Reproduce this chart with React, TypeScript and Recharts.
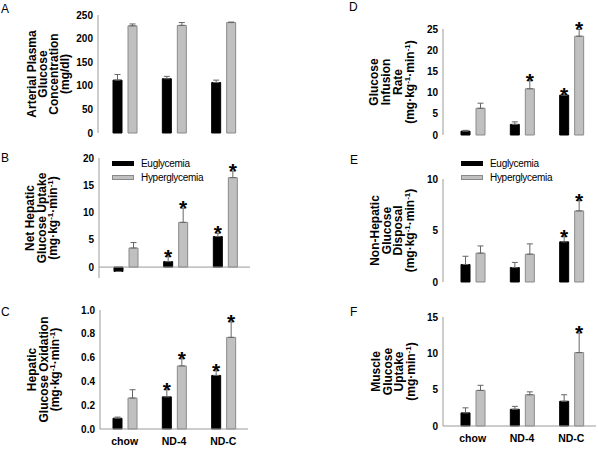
import React from 'react'
import {
  BarChart,
  Bar,
  XAxis,
  YAxis,
  ErrorBar,
  LabelList,
  ReferenceLine,
  Legend
} from 'recharts'

const FONT = '"Liberation Sans", Arial, Helvetica, sans-serif'
const EU_FILL = '#000000'
const HY_FILL = '#c0c0c0'
const HY_STROKE = '#8a8a8a'
const AXIS = '#9a9a9a'
const ERR = '#666666'

const groups = ['chow', 'ND-4', 'ND-C']

// A - arterial plasma glucose (mg/dl)
const plasmaEu = [112, 115, 107]
const plasmaEuSem = [12, 5, 5]
const plasmaHy = [227, 228, 234]
const plasmaHySem = [4, 6, 1]
const plasmaEuSig = [false, false, false]
const plasmaHySig = [false, false, false]

// B - net hepatic glucose uptake
const nhguEu = [-0.8, 1.0, 5.6]
const nhguEuSem = [0, 0.9, 0.6]
const nhguHy = [3.5, 8.2, 16.4]
const nhguHySem = [1.0, 2.6, 1.2]
const nhguEuSig = [false, true, true]
const nhguHySig = [false, true, true]

// C - hepatic glucose oxidation
const oxEu = [0.09, 0.27, 0.45]
const oxEuSem = [0.01, 0.06, 0.04]
const oxHy = [0.26, 0.53, 0.77]
const oxHySem = [0.07, 0.06, 0.13]
const oxEuSig = [false, true, true]
const oxHySig = [false, true, true]

// D - glucose infusion rate
const girEu = [0.9, 2.5, 9.4]
const girEuSem = [0.2, 0.6, 0.1]
const girHy = [6.3, 10.9, 23.3]
const girHySem = [1.2, 1.9, 1.6]
const girEuSig = [false, false, true]
const girHySig = [false, true, true]

// E - non-hepatic glucose disposal
const nhgdEu = [1.7, 1.4, 3.9]
const nhgdEuSem = [0.8, 0.5, 0.5]
const nhgdHy = [2.8, 2.7, 6.9]
const nhgdHySem = [0.7, 1.0, 1.0]
const nhgdEuSig = [false, false, true]
const nhgdHySig = [false, false, true]

// F - muscle glucose uptake
const mguEu = [1.8, 2.3, 3.4]
const mguEuSem = [0.7, 0.4, 0.9]
const mguHy = [4.9, 4.3, 10.1]
const mguHySem = [0.7, 0.4, 2.7]
const mguEuSig = [false, false, false]
const mguHySig = [false, false, true]

const seriesNames = { eu: 'Euglycemia', hy: 'Hyperglycemia' }

const buildRows = (
  eu: number[], euSem: number[], hy: number[], hySem: number[],
  euSig: boolean[], hySig: boolean[]
) =>
  groups.map((name, i) => ({
    name,
    eu: eu[i],
    euErr: [0, euSem[i]],
    hy: hy[i],
    hyErr: [0, hySem[i]],
    euSig: euSig[i],
    hySig: hySig[i]
  }))

type Seg = { t: string; sup?: boolean }
const perKgMin: Seg[] = [
  { t: '(mg·kg' }, { t: '-1', sup: true }, { t: '·min' }, { t: '-1', sup: true }, { t: ')' }
]
const perMin: Seg[] = [{ t: '(mg·min' }, { t: '-1', sup: true }, { t: ')' }]

// rotated multi-line y-axis title, centred on the plot
const axisTitle = (lines: Seg[][], x0: number, gap: number) => (props: any) => {
  const vb = props.viewBox || {}
  const cy = vb.y + vb.height / 2
  return (
    <g>
      {lines.map((line, i) => {
        const x = x0 + i * gap
        let raised = false
        return (
          <text
            key={i}
            x={x}
            y={cy}
            transform={`rotate(-90 ${x} ${cy})`}
            textAnchor="middle"
            fontFamily={FONT}
            fontSize={12}
            fontWeight="bold"
            fill="#000"
          >
            {line.map((s, j) => {
              let dy = 0
              if (s.sup && !raised) { dy = -4; raised = true }
              else if (!s.sup && raised) { dy = 4; raised = false }
              return (
                <tspan key={j} dy={dy} fontSize={s.sup ? 8 : 12}>{s.t}</tspan>
              )
            })}
          </text>
        )
      })}
    </g>
  )
}

// asterisk above the error bar of significant bars
const star = (rows: any[], sigKey: string, errKey: string) => (props: any) => {
  const { x, y, width, height, index, value } = props
  const row = rows[index]
  if (!row || !row[sigKey] || !value) return null
  const pxPerUnit = Math.abs(height) / Math.abs(value)
  const top = Math.min(y, y + height) - row[errKey][1] * pxPerUnit
  return (
    <text
      x={x + width / 2}
      y={top + 7}
      textAnchor="middle"
      fontFamily={FONT}
      fontSize={21}
      fontWeight="bold"
      fill="#000"
    >
      *
    </text>
  )
}

const SeriesKey = ({ payload }: any) => (
  <div style={{ fontFamily: FONT, fontSize: 10, letterSpacing: -0.3, color: '#000' }}>
    {(payload || []).map((p: any) => (
      <div key={p.value} style={{ display: 'flex', alignItems: 'center', height: 14 }}>
        <span
          style={{
            display: 'inline-block',
            width: 20,
            height: 3,
            background: p.dataKey === 'eu' ? EU_FILL : HY_FILL,
            border: `1px solid ${p.dataKey === 'eu' ? EU_FILL : HY_STROKE}`,
            marginRight: 7
          }}
        />
        {p.value}
      </div>
    ))}
  </div>
)

interface PanelProps {
  left: number
  top: number
  width: number
  height: number
  margin: { top: number; right: number; bottom: number; left: number }
  rows: any[]
  domain: [number, number]
  ticks: number[]
  fmt?: (v: number) => string
  title: Seg[][]
  titleX: number
  titleGap: number
  names?: boolean
  padLeft?: number
  legendAt?: { left: number; top: number }
  zeroLine?: boolean
}

const Panel = (p: PanelProps) => (
  <div style={{ position: 'absolute', left: p.left, top: p.top }}>
    <BarChart
      width={p.width}
      height={p.height}
      data={p.rows}
      margin={p.margin}
      barSize={9}
      barGap={6}
    >
      <XAxis
        dataKey="name"
        interval={0}
        height={p.names ? 20 : 0}
        tick={p.names ? { fontSize: 10.5, fontWeight: 'bold', fill: '#000', fontFamily: FONT } : false}
        tickLine={false}
        tickSize={4}
        tickMargin={5}
        stroke={AXIS}
        padding={{ left: p.padLeft || 0, right: 0 }}
      />
      <YAxis
        width={30}
        domain={p.domain}
        ticks={p.ticks}
        interval={0}
        tickFormatter={p.fmt}
        tick={{ fontSize: 10, fontWeight: 'bold', fill: '#000', fontFamily: FONT }}
        tickLine={false}
        tickSize={2}
        tickMargin={3}
        stroke={AXIS}
        label={{ content: axisTitle(p.title, p.titleX, p.titleGap) }}
      />
      {p.zeroLine && <ReferenceLine y={0} stroke={AXIS} />}
      {p.legendAt && (
        <Legend
          layout="vertical"
          align="center"
          verticalAlign="middle"
          content={<SeriesKey />}
          wrapperStyle={{ left: p.legendAt.left, top: p.legendAt.top, width: 'auto' }}
        />
      )}
      <Bar
        dataKey="eu"
        name={seriesNames.eu}
        fill={EU_FILL}
        stroke={EU_FILL}
        isAnimationActive={false}
      >
        <ErrorBar dataKey="euErr" width={3} stroke={ERR} strokeWidth={1} direction="y" />
        <LabelList dataKey="eu" content={star(p.rows, 'euSig', 'euErr')} />
      </Bar>
      <Bar
        dataKey="hy"
        name={seriesNames.hy}
        fill={HY_FILL}
        stroke={HY_STROKE}
        isAnimationActive={false}
      >
        <ErrorBar dataKey="hyErr" width={3} stroke={ERR} strokeWidth={1} direction="y" />
        <LabelList dataKey="hy" content={star(p.rows, 'hySig', 'hyErr')} />
      </Bar>
    </BarChart>
  </div>
)

const panelLetters = [
  { t: 'A', x: 1, y: 13 },
  { t: 'B', x: 1, y: 162 },
  { t: 'C', x: 1, y: 316 },
  { t: 'D', x: 349, y: 11 },
  { t: 'E', x: 350, y: 164 },
  { t: 'F', x: 350, y: 316 }
]

export default function App() {
  return (
    <div
      style={{
        position: 'absolute',
        left: 0,
        top: 0,
        width: 598,
        height: 449,
        background: '#fff',
        overflow: 'hidden'
      }}
    >
      <Panel
        left={0} top={0} width={300} height={150}
        margin={{ top: 15, right: 52, bottom: 17, left: 68 }}
        rows={buildRows(plasmaEu, plasmaEuSem, plasmaHy, plasmaHySem, plasmaEuSig, plasmaHySig)}
        domain={[0, 250]} ticks={[0, 50, 100, 150, 200, 250]}
        title={[[{ t: 'Arterial Plasma' }], [{ t: 'Glucose' }], [{ t: 'Concentration' }], [{ t: '(mg/dl)' }]]}
        titleX={36} titleGap={11}
        padLeft={2}
      />
      <Panel
        left={0} top={140} width={300} height={160}
        margin={{ top: 18, right: 50, bottom: 22, left: 69 }}
        rows={buildRows(nhguEu, nhguEuSem, nhguHy, nhguHySem, nhguEuSig, nhguHySig)}
        domain={[-2, 20]} ticks={[0, 5, 10, 15, 20]}
        title={[[{ t: 'Net Hepatic' }], [{ t: 'Glucose Uptake' }], perKgMin]}
        titleX={34} titleGap={11.5}
        padLeft={2}
        legendAt={{ left: 112, top: 16 }}
        zeroLine
      />
      <Panel
        left={0} top={295} width={300} height={154}
        margin={{ top: 15, right: 52, bottom: 0, left: 70 }}
        rows={buildRows(oxEu, oxEuSem, oxHy, oxHySem, oxEuSig, oxHySig)}
        domain={[0, 1]} ticks={[0, 0.2, 0.4, 0.6, 0.8, 1.0]}
        fmt={(v) => v.toFixed(1)}
        title={[[{ t: 'Hepatic' }], [{ t: 'Glucose Oxidation' }], perKgMin]}
        titleX={36} titleGap={11.5}
        names
      />
      <Panel
        left={300} top={0} width={298} height={150}
        margin={{ top: 29, right: 2, bottom: 15, left: 113 }}
        rows={buildRows(girEu, girEuSem, girHy, girHySem, girEuSig, girHySig)}
        domain={[0, 25]} ticks={[0, 5, 10, 15, 20, 25]}
        title={[[{ t: 'Glucose' }], [{ t: 'Infusion' }], [{ t: 'Rate' }], perKgMin]}
        titleX={78} titleGap={12}
        padLeft={5}
      />
      <Panel
        left={300} top={140} width={298} height={160}
        margin={{ top: 39, right: 2, bottom: 18, left: 113 }}
        rows={buildRows(nhgdEu, nhgdEuSem, nhgdHy, nhgdHySem, nhgdEuSig, nhgdHySig)}
        domain={[0, 10]} ticks={[0, 5, 10]}
        title={[[{ t: 'Non-Hepatic' }], [{ t: 'Glucose' }], [{ t: 'Disposal' }], perKgMin]}
        titleX={79} titleGap={11.5}
        padLeft={5}
        legendAt={{ left: 161, top: 16 }}
      />
      <Panel
        left={300} top={295} width={298} height={154}
        margin={{ top: 22, right: 2, bottom: 3, left: 113 }}
        rows={buildRows(mguEu, mguEuSem, mguHy, mguHySem, mguEuSig, mguHySig)}
        domain={[0, 15]} ticks={[0, 5, 10, 15]}
        title={[[{ t: 'Muscle' }], [{ t: 'Glucose' }], [{ t: 'Uptake' }], perMin]}
        titleX={80} titleGap={11.5}
        padLeft={5}
        names
      />
      <svg
        width={598}
        height={449}
        style={{ position: 'absolute', left: 0, top: 0, pointerEvents: 'none' }}
      >
        {panelLetters.map((l) => (
          <text key={l.t} x={l.x} y={l.y} fontFamily={FONT} fontSize={12} fill="#000">
            {l.t}
          </text>
        ))}
      </svg>
    </div>
  )
}
